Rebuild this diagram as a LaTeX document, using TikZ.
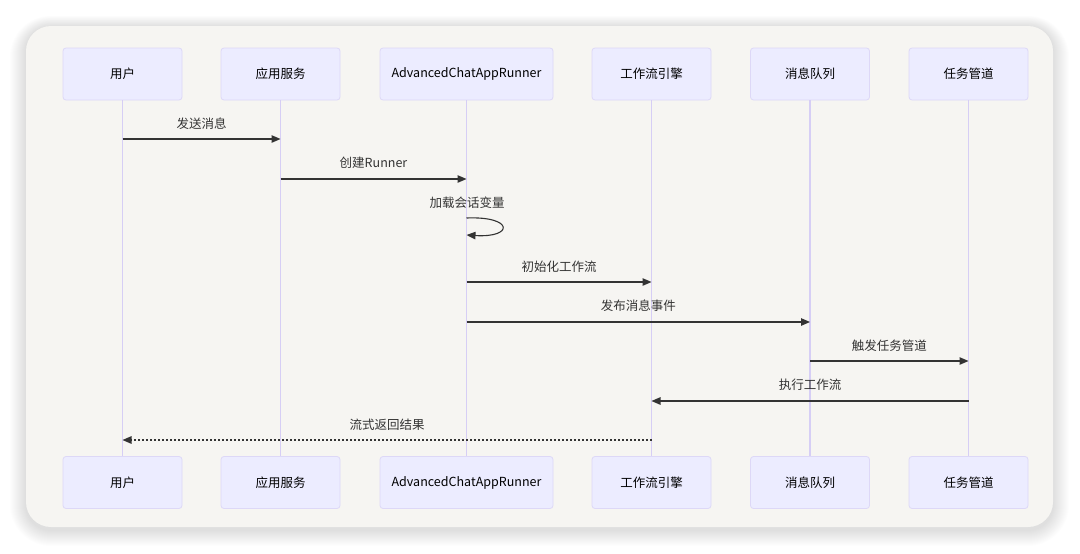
\documentclass[tikz,border=0pt]{standalone}
\usepackage{fontspec}
\setmainfont{Noto Sans CJK SC}
\usetikzlibrary{arrows.meta}
\definecolor{panel}{HTML}{F6F5F2}
\definecolor{actfill}{HTML}{ECECFF}
\definecolor{actline}{HTML}{DDD8F7}
\definecolor{life}{HTML}{D6CEF5}
\definecolor{ink}{HTML}{333333}
\tikzset{
  actor/.style={draw=actline, fill=actfill, line width=0.8pt, rounded corners=3pt, minimum width=119pt, minimum height=52pt, inner sep=0pt, font=\fontsize{12.5}{14}\selectfont, text=black},
  lifeline/.style={draw=life, line width=1.1pt},
  msg/.style={draw=ink, line width=1.1pt, -{Triangle[length=9pt,width=7.5pt]}},
  reply/.style={draw=ink, line width=1.1pt, dash pattern=on 2pt off 2pt, -{Triangle[length=9pt,width=7.5pt]}},
  lbl/.style={font=\fontsize{12.5}{14}\selectfont, text=ink, inner sep=0pt}
}
\begin{document}
\begin{tikzpicture}[x=1pt,y=-1pt]
\useasboundingbox (0,0) rectangle (1080,554);
\fill[white] (0,0) rectangle (1080,554);
% soft shadow
\foreach \i in {1,...,16} {
  \pgfmathsetmacro{\rr}{25+\i}
  \fill[black, opacity=0.006, rounded corners=\rr pt] (26-\i,27-0.7*\i) rectangle (1053+\i,530+\i);
}
\fill[panel, rounded corners=25pt] (26,26) rectangle (1053,527);

% actors top
\node[actor] (uT) at (122.5,74) {用户};
\node[actor] (aT) at (280.5,74) {应用服务};
\node[actor, minimum width=173pt] (rT) at (466.5,74) {AdvancedChatAppRunner};
\node[actor] (wT) at (651.5,74) {工作流引擎};
\node[actor] (qT) at (810,74) {消息队列};
\node[actor] (pT) at (968.5,74) {任务管道};
% actors bottom
\node[actor] (uB) at (122.5,482.5) {用户};
\node[actor] (aB) at (280.5,482.5) {应用服务};
\node[actor, minimum width=173pt] (rB) at (466.5,482.5) {AdvancedChatAppRunner};
\node[actor] (wB) at (651.5,482.5) {工作流引擎};
\node[actor] (qB) at (810,482.5) {消息队列};
\node[actor] (pB) at (968.5,482.5) {任务管道};

% lifelines
\foreach \n in {u,a,r,w,q,p} { \draw[lifeline] (\n T.south) -- (\n B.north); }

% coordinates on lifelines
\coordinate (u1) at (uT.south |- 0,139);
\coordinate (a1) at (aT.south |- 0,139);
\coordinate (a2) at (aT.south |- 0,179);
\coordinate (r2) at (rT.south |- 0,179);
\coordinate (r3a) at (rT.south |- 0,218);
\coordinate (r3b) at (rT.south |- 0,235);
\coordinate (r4) at (rT.south |- 0,282);
\coordinate (w4) at (wT.south |- 0,282);
\coordinate (r5) at (rT.south |- 0,322);
\coordinate (q5) at (qT.south |- 0,322);
\coordinate (q6) at (qT.south |- 0,361);
\coordinate (p6) at (pT.south |- 0,361);
\coordinate (p7) at (pT.south |- 0,401);
\coordinate (w7) at (wT.south |- 0,401);
\coordinate (w8) at (wT.south |- 0,440);
\coordinate (u8) at (uT.south |- 0,440);

\draw[msg] (u1) -- (a1) node[lbl, midway, yshift=15pt] {发送消息};
\draw[msg] (a2) -- (r2) node[lbl, midway, yshift=16pt] {创建Runner};
\draw[msg] (r3a) .. controls (514,216) and (514,238) .. (r3b);
\node[lbl] (l3) at (467,203) {加载会话变量};
\draw[msg] (r4) -- (w4) node[lbl, midway, yshift=15pt] {初始化工作流};
\draw[msg] (r5) -- (q5) node[lbl, midway, yshift=16pt] {发布消息事件};
\draw[msg] (q6) -- (p6) node[lbl, midway, yshift=15pt] {触发任务管道};
\draw[msg] (p7) -- (w7) node[lbl, midway, yshift=16pt] {执行工作流};
\draw[reply] (w8) -- (u8) node[lbl, midway, yshift=15pt] {流式返回结果};
\end{tikzpicture}
\end{document}
